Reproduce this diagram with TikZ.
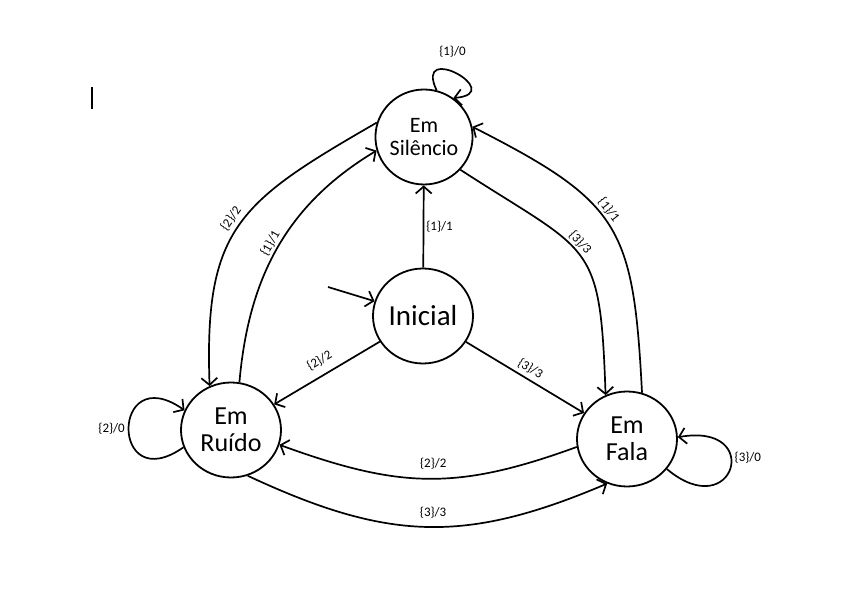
\documentclass[tikz,border=0pt]{standalone}
\usepackage{fontspec}
\setmainfont{Carlito}
\usetikzlibrary{arrows.meta, shapes.geometric}

\tikzset{
  state/.style={draw, ellipse, line width=1.8pt, minimum width=100pt, minimum height=95pt, inner sep=0pt, align=center},
  trans/.style={line width=1.7pt, -{Straight Barb[length=7pt,width=16pt]}},
  lbl/.style={font=\fontsize{13}{15}\selectfont, inner sep=4pt}
}

\begin{document}
\begin{tikzpicture}[x=1pt, y=1pt]
\useasboundingbox (0,0) rectangle (855,-593);

% estados
\node[state, minimum width=94pt, font=\fontsize{22}{23}\selectfont] (sil) at (424,-137) {Em\\Silêncio};
\node[state, font=\fontsize{29}{30}\selectfont] (ini) at (423,-316) {Inicial};
\node[state, font=\fontsize{26}{27.5}\selectfont] (rui) at (231,-430) {Em\\Ruído};
\node[state, font=\fontsize{26}{27.5}\selectfont] (fal) at (627,-439) {Em\\Fala};

\coordinate (entrada) at (328,-287);
\draw[line width=2pt] (92,-87) -- (92,-109);

% transicoes
\draw[trans] (entrada) -- (ini);
\draw[trans] (ini) -- node[lbl, right, inner sep=2pt] {\{1\}/1} (sil);
\draw[trans] (ini) -- node[lbl, sloped, above=4pt] {\{2\}/2} (rui);
\draw[trans] (ini) -- node[lbl, sloped, above] {\{3\}/3} (fal);

\draw[trans] (sil.163) to[out=210, in=92, looseness=1.3] node[lbl, sloped, above, pos=0.5] {\{2\}/2} (rui.116);
\draw[trans] (rui.80) to[out=85, in=211] node[lbl, sloped, above, inner sep=2pt] {\{1\}/1} (sil.196);
\draw[trans] (sil.-42) to[out=-33, in=92, looseness=1.5] node[lbl, sloped, above, pos=0.45, inner sep=2pt] {\{3\}/3} (fal.116);
\draw[trans] (fal.72) to[out=93, in=-27, looseness=1.35] node[lbl, sloped, above, pos=0.55, inner sep=2pt] {\{1\}/1} (sil.12);
\draw[trans] (fal.189) to[out=200, in=-20, looseness=1.1] node[lbl, sloped, above=5pt, pos=0.48] {\{2\}/2} (rui.-17);
\draw[trans] (rui.-70) to[out=-25, in=203, looseness=1.1] node[lbl, sloped, above=4pt, pos=0.52] {\{3\}/3} (fal.246);

% lacos
\draw[trans] (sil.75) to[out=115, in=5, min distance=55pt] node[lbl, above=9pt, pos=0.45] {\{1\}/0} (sil.53);
\draw[trans] (rui.200) to[out=215, in=145, min distance=90pt] node[lbl, left, inner sep=3pt] {\{2\}/0} (rui.157);
\draw[trans] (fal.-37) to[out=-40, in=10, min distance=88pt] node[lbl, right, inner sep=3pt, pos=0.6] {\{3\}/0} (fal.2);
\end{tikzpicture}
\end{document}
